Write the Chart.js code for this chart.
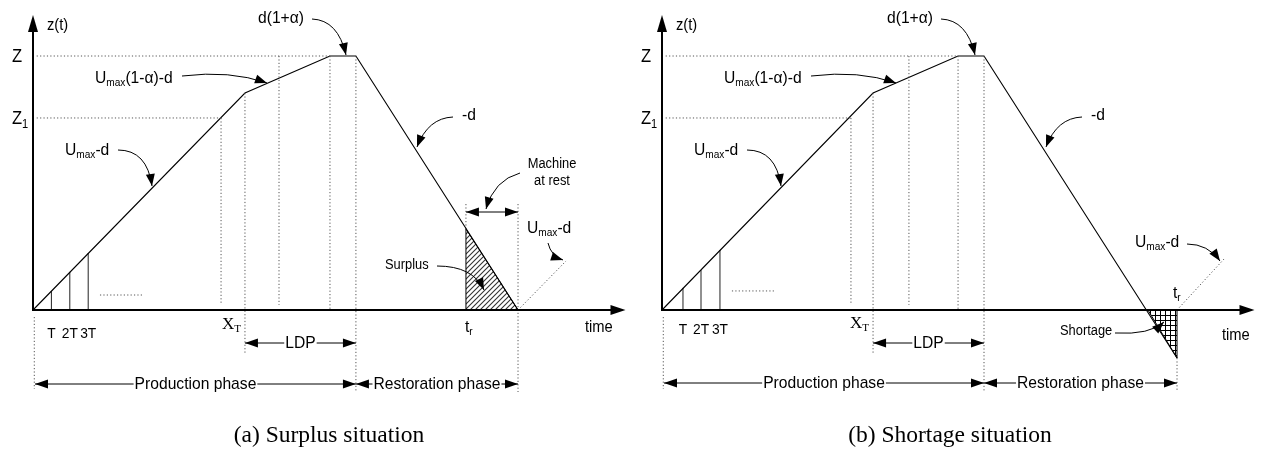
<!DOCTYPE html>
<html>
<head>
<meta charset="utf-8">
<title>Surplus and shortage situations</title>
<script src="https://cdn.jsdelivr.net/npm/chart.js@4.4.1/dist/chart.umd.min.js"></script>
<style>
  html, body { margin: 0; padding: 0; background: #fff; }
  canvas { display: block; }
</style>
</head>
<body>
<canvas id="diagram" width="1261" height="455"></canvas>
<script>
// time is counted in periods T, stock level z(t) is scaled so that Z = 100

// (a) surplus situation
const surplusTime = [0, 11.52, 16.14, 17.55, 26.36];
const surplusLevel = [0, 85.4, 100, 100, 0];
const surplusPeriods = [1, 2, 3];
const surplusPeriodLevel = [7.5, 15, 22.4];
const surplusGuides = [10.22, 13.37];      // Z1 reached, mid guide
const surplusDots = [3.64, 5.98];
const surplusTr = 23.53;
const surplusAtTr = 31.9;
const surplusRestart = [26.36, 28.97];
const surplusRestartLevel = [0, 19.3];

// (b) shortage situation
const shortageTime = [0, 11.47, 16.09, 17.5, 27.99];
const shortageLevel = [0, 85.4, 100, 100, -18.9];
const shortagePeriods = [1.14, 2.12, 3.15];
const shortagePeriodLevel = [8.7, 15.7, 23.6];
const shortageGuides = [10.27, 13.42];
const shortageDots = [3.8, 6.2];
const shortageZero = 26.41;
const shortageRestart = [27.99, 30.6];
const shortageRestartLevel = [0, 20.5];

const levelValues = [100, 75.6];
const levelLabels = ['Z', 'Z_{1}'];
const periodLabels = ['T', '2T', '3T'];

// ---- layout ----
const W = 1261, H = 455;
const PX_T = 18.4, PX_Z = 2.54;
const ORIGIN = { xa: 33, xb: 662 };
const AXIS_Y = 310;
const LDP_Y = 343, PHASE_Y = 384, REST_Y = 212;
const AXIS_END_T = 32.2, AXIS_TOP_Z = 116.1;
const zAt = px => (AXIS_Y - px) / PX_Z;
const SANS = '"Liberation Sans", Arial, Helvetica, sans-serif';
const SERIF = '"Liberation Serif", "Times New Roman", serif';
const SQUEEZE = 0.92;

const ctx = document.getElementById('diagram').getContext('2d');

function makePattern(draw) {
  const c = document.createElement('canvas');
  c.width = c.height = 5;
  const g = c.getContext('2d');
  draw(g);
  return ctx.createPattern(c, 'repeat');
}
const hatch = makePattern(g => {
  g.strokeStyle = '#333';
  g.lineWidth = 1.1;
  g.beginPath();
  g.moveTo(-1, 6); g.lineTo(6, -1);
  g.moveTo(-1, 1); g.lineTo(1, -1);
  g.moveTo(4, 6); g.lineTo(6, 4);
  g.stroke();
});
const grid = makePattern(g => {
  g.fillStyle = '#000';
  g.fillRect(0, 0, 5, 1);
  g.fillRect(0, 0, 1, 5);
});

const DOT = { borderColor: '#555', borderWidth: 1, borderDash: [1.2, 2.2] };

function line(axis, xs, ys, style) {
  return Object.assign({
    xAxisID: axis,
    yAxisID: 'y',
    data: xs.map((x, i) => ({ x, y: ys[i] })),
    borderColor: '#000',
    borderWidth: 1,
    pointRadius: 0,
    fill: false,
    tension: 0
  }, style);
}

function panelSets(axis, time, level, periods, periodLevel, guides, dots, dotsLevel) {
  const [Z, Z1] = levelValues;
  const sets = [
    line(axis, [0.2, time[2]], [Z, Z], DOT),
    line(axis, [0.2, guides[0]], [Z1, Z1], DOT),
    line(axis, [guides[0], guides[0]], [Z1, zAt(305)], DOT),
    line(axis, [guides[1], guides[1]], [Z, zAt(305)], DOT),
    line(axis, [time[1], time[1]], [level[1], zAt(LDP_Y + 11)], DOT),
    line(axis, [time[2], time[2]], [Z, 0], DOT),
    line(axis, [time[3], time[3]], [Z, zAt(PHASE_Y + 8)], DOT),
    line(axis, [0.07, 0.07], [zAt(317), zAt(PHASE_Y + 5)], DOT),
    line(axis, dots, [dotsLevel, dotsLevel], DOT),
    line(axis, time, level, { borderWidth: 1.1 })
  ];
  periods.forEach((t, i) => sets.push(line(axis, [t, t], [0, periodLevel[i]], { borderColor: '#222' })));
  return sets;
}

const datasets = [
  ...panelSets('xa', surplusTime, surplusLevel, surplusPeriods, surplusPeriodLevel, surplusGuides, surplusDots, 5.9),
  line('xa', [surplusTr, surplusTr], [zAt(REST_Y - 8), surplusAtTr], DOT),
  line('xa', [surplusTime[4], surplusTime[4]], [zAt(REST_Y - 8), zAt(PHASE_Y + 8)], DOT),
  line('xa', surplusRestart, surplusRestartLevel, DOT),
  line('xa', [surplusTr, surplusTr, surplusTime[4]], [0, surplusAtTr, 0], { fill: 'origin', backgroundColor: hatch }),

  ...panelSets('xb', shortageTime, shortageLevel, shortagePeriods, shortagePeriodLevel, shortageGuides, shortageDots, 7.5),
  line('xb', [shortageTime[4], shortageTime[4]], [shortageLevel[4], zAt(PHASE_Y + 6)], DOT),
  line('xb', shortageRestart, shortageRestartLevel, DOT),
  line('xb', [shortageZero, shortageTime[4], shortageTime[4]], [0, shortageLevel[4], 0], { fill: 'origin', backgroundColor: grid })
];

// ---- text and arrow helpers ----
function parts(str) {
  return str.split(/(_\{[^}]*\})/).filter(Boolean).map(s =>
    s.startsWith('_{') ? { text: s.slice(2, -1), sub: true } : { text: s, sub: false });
}

function label(c, str, x, y, opt = {}) {
  const size = opt.size || 17;
  const fam = opt.family || SANS;
  const sq = opt.squeeze === undefined ? SQUEEZE : opt.squeeze;
  const subSize = Math.round(size * 0.65);
  const ps = parts(str);
  let w = 0;
  ps.forEach(p => {
    c.font = `${p.sub ? subSize : size}px ${fam}`;
    p.w = c.measureText(p.text).width * sq;
    w += p.w;
  });
  let cx = opt.align === 'center' ? x - w / 2 : opt.align === 'right' ? x - w : x;
  if (opt.clear) {
    c.fillStyle = '#fff';
    c.fillRect(cx - 1, y - size * 0.85, w + 2, size * 1.1);
  }
  c.fillStyle = '#000';
  c.textAlign = 'left';
  c.textBaseline = 'alphabetic';
  ps.forEach(p => {
    c.save();
    c.font = `${p.sub ? subSize : size}px ${fam}`;
    c.translate(cx, y + (p.sub ? size * 0.2 : 0));
    c.scale(sq, 1);
    c.fillText(p.text, 0, 0);
    c.restore();
    cx += p.w;
  });
}

function head(c, x, y, angle, len, half) {
  c.save();
  c.translate(x, y);
  c.rotate(angle);
  c.beginPath();
  c.moveTo(0, 0);
  c.lineTo(-len, -half);
  c.lineTo(-len, half);
  c.closePath();
  c.fill();
  c.restore();
}

function span(c, x1, x2, y, text) {
  c.beginPath();
  c.moveTo(x1, y);
  c.lineTo(x2, y);
  c.stroke();
  head(c, x1, y, Math.PI, 13, 4.5);
  head(c, x2, y, 0, 13, 4.5);
  if (text) label(c, text, (x1 + x2) / 2, y + 5, { align: 'center', clear: true });
}

function curved(c, ox, a) {
  const [sx, sy, cx, cy, tx, ty] = a;
  c.beginPath();
  c.moveTo(ox + sx, sy);
  c.quadraticCurveTo(ox + cx, cy, ox + tx, ty);
  c.stroke();
  head(c, ox + tx, ty, Math.atan2(ty - cy, tx - cx), 12, 4.5);
}

// arrows: start, control, tip (x relative to the panel origin)
const sharedArrows = [
  [149, 76, 197, 70, 234, 83],
  [85, 150, 114, 150, 119, 186],
  [279, 19, 305, 20, 313, 55],
  [420, 117, 395, 118, 384, 147]
];
const sharedLabels = [
  ['z(t)', 14, 30, 16],
  ['U_{max}-d', 32, 155, 17],
  ['U_{max}(1-α)-d', 62, 83, 17],
  ['d(1+α)', 225, 23, 17],
  ['-d', 429, 120, 17]
];

function drawPanel(c, xs, ys, p) {
  const ox = xs.getPixelForValue(0);
  const oy = ys.getPixelForValue(0);
  c.save();
  c.strokeStyle = '#000';
  c.fillStyle = '#000';

  // axes
  const top = ys.getPixelForValue(AXIS_TOP_Z);
  const end = xs.getPixelForValue(AXIS_END_T);
  c.lineWidth = 2;
  c.beginPath();
  c.moveTo(ox, oy + 1);
  c.lineTo(ox, top + 12);
  c.moveTo(ox, oy);
  c.lineTo(end - 10, oy);
  c.stroke();
  head(c, ox, top, -Math.PI / 2, 17, 5);
  head(c, end, oy, 0, 15, 5);

  // dimension arrows
  c.lineWidth = 1;
  const px = t => xs.getPixelForValue(t);
  span(c, px(p.time[1]), px(p.time[3]), LDP_Y, 'LDP');
  span(c, ox + 2, px(p.time[3]), p.phaseY, 'Production phase');
  span(c, px(p.time[3]), px(p.time[4]), p.phaseY, 'Restoration phase');
  if (p.rest) span(c, px(p.rest[0]), px(p.rest[1]), REST_Y, null);

  // curved pointers
  sharedArrows.concat(p.arrows).forEach(a => curved(c, ox, a));

  // texts
  sharedLabels.concat(p.labels).forEach(([t, dx, y, size]) => label(c, t, ox + dx, y, { size }));
  levelValues.forEach((v, i) => label(c, levelLabels[i], ox - 21, ys.getPixelForValue(v) + 6, { size: 18 }));
  p.periods.forEach((t, i) => label(c, periodLabels[i], px(t), p.periodY, { size: 15, align: 'center' }));
  label(c, 'X_{T}', px(p.time[1]) - 4, p.xtY, { family: SERIF, squeeze: 1, align: 'right' });
  label(c, 't_{r}', px(p.tr) + p.trDx, p.trY, { size: 17 });
  label(c, 'time', ox + p.timeDx, p.timeY, { size: 16 });
  c.restore();
}

const panels = {
  xa: {
    time: surplusTime, periods: surplusPeriods, tr: surplusTr,
    rest: [surplusTr, surplusTime[4]],
    phaseY: PHASE_Y, periodY: 338, xtY: 329, trDx: -1, trY: 332, timeDx: 552, timeY: 332,
    arrows: [
      [487, 173, 461, 180, 453, 209],
      [515, 243, 518, 256, 530, 260],
      [404, 266, 440, 266, 451, 290]
    ],
    labels: [
      ['U_{max}-d', 494, 233, 17],
      ['Surplus', 352, 269, 14]
    ],
    extra: (c, ox) => {
      label(c, 'Machine', ox + 519, 168, { size: 14, align: 'center' });
      label(c, 'at rest', ox + 519, 185, { size: 14, align: 'center' });
    }
  },
  xb: {
    time: shortageTime, periods: shortagePeriods, tr: shortageTime[4],
    rest: null,
    phaseY: PHASE_Y - 1, periodY: 334, xtY: 328, trDx: -4, trY: 298, timeDx: 560, timeY: 340,
    arrows: [
      [525, 244, 546, 244, 558, 261],
      [453, 333, 488, 335, 502, 322]
    ],
    labels: [
      ['U_{max}-d', 473, 247, 17],
      ['Shortage', 398, 335, 14]
    ],
    extra: null
  }
};

const diagramPlugin = {
  id: 'diagram',
  afterDatasetsDraw(chart) {
    const c = chart.ctx;
    const ys = chart.scales.y;
    Object.keys(panels).forEach(id => {
      const p = panels[id];
      drawPanel(c, chart.scales[id], ys, p);
      if (p.extra) p.extra(c, chart.scales[id].getPixelForValue(0));
    });
    label(c, '(a) Surplus situation', 329, 442, { size: 23.5, family: SERIF, squeeze: 1, align: 'center' });
    label(c, '(b) Shortage situation', 950, 442, { size: 23.5, family: SERIF, squeeze: 1, align: 'center' });
  }
};

new Chart(ctx, {
  type: 'line',
  data: { datasets },
  options: {
    responsive: false,
    animation: false,
    events: [],
    layout: { padding: 0 },
    plugins: { legend: { display: false }, tooltip: { enabled: false } },
    scales: {
      xa: { type: 'linear', axis: 'x', display: false, min: -ORIGIN.xa / PX_T, max: (W - ORIGIN.xa) / PX_T },
      xb: { type: 'linear', axis: 'x', display: false, min: -ORIGIN.xb / PX_T, max: (W - ORIGIN.xb) / PX_T },
      y: { type: 'linear', display: false, min: zAt(H), max: zAt(0) }
    }
  },
  plugins: [diagramPlugin]
});
</script>
</body>
</html>
